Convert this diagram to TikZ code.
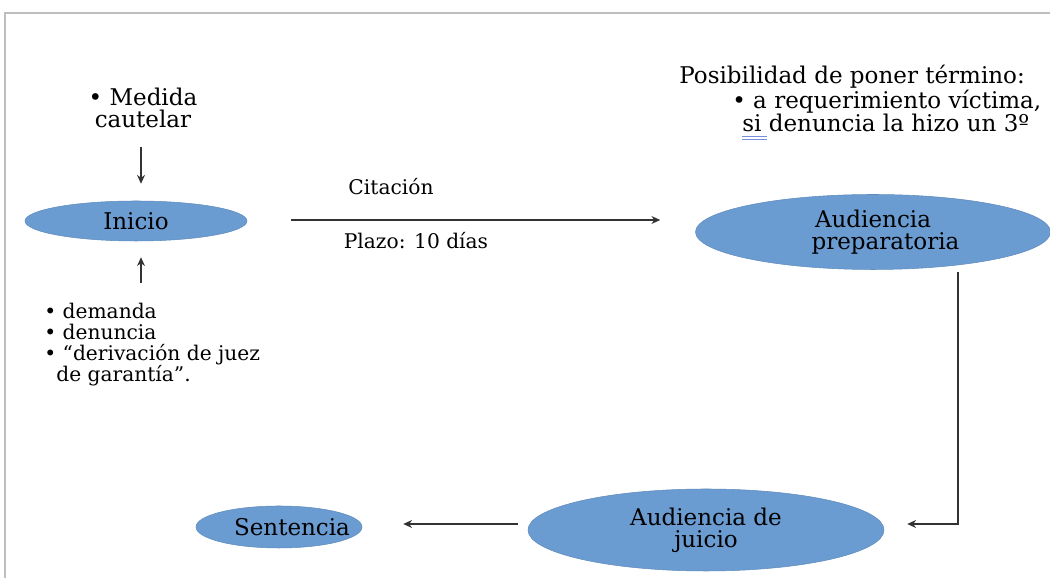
\documentclass[tikz,border=0pt]{standalone}
\usepackage{fontspec}
\setmainfont{DejaVu Serif}
\usepackage{xcolor}
\usetikzlibrary{shapes.geometric,arrows.meta,calc}

\definecolor{etapa}{RGB}{106,155,209}
\definecolor{marco}{RGB}{190,190,190}
\definecolor{revisor}{RGB}{120,140,220}

\newcommand{\marcasi}[1]{%
    \makebox[0pt][l]{\color{revisor}\raisebox{-3.2pt}{\rule{1.05em}{0.4pt}}}%
    \makebox[0pt][l]{\color{revisor}\raisebox{-4.6pt}{\rule{1.05em}{0.4pt}}}#1}

\begin{document}
\begin{tikzpicture}[%
    etapa/.style={%
        ellipse,
        fill=etapa,
        draw=etapa!90!black,
        line width=0.3pt,
        inner sep=0pt,
        align=center,
        font=\fontsize{13.1}{12.5}\selectfont,
        text=black,
    },
    nota/.style={%
        inner sep=0pt,
        font=\fontsize{13.1}{13}\selectfont,
        text=black,
    },
    lista/.style={%
        inner sep=0pt,
        font=\fontsize{11.5}{11.9}\selectfont,
        text=black,
    },
    flecha/.style={%
        draw=black!80,
        line width=0.6pt,
        -{Stealth[length=5pt,width=4.5pt]},
    }
]
\useasboundingbox (0,0) rectangle (21,-11.56);
\draw[marco,line width=1.2pt] (0.1,-11.56) |- (21,-0.26);

% etapas del procedimiento
\node[etapa,minimum width=4.44cm,minimum height=0.8cm] (inicio) at (2.72,-4.42) {Inicio};
\node[etapa,minimum width=7.1cm,minimum height=1.5cm] (prep) at (17.46,-4.64) {Audiencia\\\hspace*{0.5cm}preparatoria};
\node[etapa,minimum width=7.12cm,minimum height=1.64cm] (juicio) at (14.12,-10.6) {Audiencia de\\juicio};
\node[etapa,minimum width=3.32cm,minimum height=0.84cm,
      label={[etapa,draw=none,fill=none,xshift=0.26cm]center:Sentencia}] (sentencia) at (5.58,-10.54) {};

% textos
\node[nota,align=center] (medida) at (2.86,-2.16) {• Medida\\cautelar};
\node[lista,align=left,anchor=north west] (origen) at (0.88,-6.06) {%
    • demanda\\
    • denuncia\\
    • “derivación de juez\\
    \hspace*{0.24cm}de garantía”.};
\node[nota,align=left,anchor=north west] (termino) at (13.58,-1.3) {%
    Posibilidad de poner término:\\
    \hspace*{1.06cm}• a requerimiento víctima,\\
    \hspace*{1.26cm}\marcasi{si} denuncia la hizo un 3º};
\node[lista] (citacion) at (7.82,-3.74) {Citación};
\node[lista] (plazo) at (8.32,-4.82) {Plazo: 10 días};

% conectores
\draw[flecha] ([xshift=0.1cm,yshift=-0.36cm]medida.south -| inicio) -- ([xshift=0.1cm,yshift=0.34cm]inicio.north);
\draw[flecha] ([xshift=0.1cm,yshift=-0.84cm]inicio.south) -- ([xshift=0.1cm,yshift=-0.32cm]inicio.south);
\draw[flecha,shorten <=0.88cm,shorten >=0.7cm] (inicio.east |- 0,-4.4) -- (prep.west |- 0,-4.4);
\draw[flecha] ([xshift=1.7cm,yshift=-0.04cm]prep.south) |- ([xshift=0.46cm,yshift=0.12cm]juicio.east);
\draw[flecha,shorten <=0.2cm,shorten >=0.82cm] (juicio.west |- 0,-10.48) -- (sentencia.east |- 0,-10.48);

\end{tikzpicture}
\end{document}
